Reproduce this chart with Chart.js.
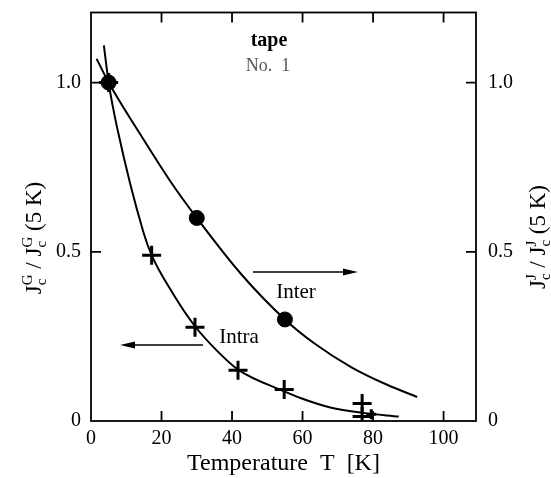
<!DOCTYPE html>
<html>
<head>
<meta charset="utf-8">
<script src="https://cdn.jsdelivr.net/npm/chart.js@4.4.0/dist/chart.umd.min.js"></script>
<style>
  html, body { margin: 0; padding: 0; background: #fff; }
  #wrap { width: 551px; height: 478px; }
</style>
</head>
<body>
<div id="wrap"><canvas id="chart" width="551" height="478"></canvas></div>
<script>
const interT = [5, 30, 55];
const interJ = [1.0, 0.60, 0.30];
const intraT = [5, 17.2, 29.5, 41.7, 54.8, 76.9, 76.9, 79.5];
const intraJ = [1.0, 0.49, 0.277, 0.15, 0.093, 0.052, 0.013, 0.02];

// hand-drawn guide curves
const interCurveT = [1.6, 5, 13.8, 22.4, 30, 42.5, 55, 63, 74, 84, 92.5];
const interCurveJ = [1.07, 1.0, 0.85, 0.71, 0.60, 0.435, 0.30, 0.232, 0.158, 0.107, 0.071];
const intraCurveT = [3.65, 5, 7.7, 14.8, 17.2, 23.4, 29.5, 35.7, 41.7, 55, 59.4, 67.9, 77, 87.3];
const intraCurveJ = [1.11, 1.0, 0.853, 0.56, 0.49, 0.374, 0.28, 0.208, 0.152, 0.087, 0.068, 0.040, 0.024, 0.013];

const xTicks = [0, 20, 40, 60, 80, 100];
const yTicks = [0, 0.5, 1.0];
const yTickLabels = ['0', '0.5', '1.0'];

const SERIF = '"Liberation Serif", "Times New Roman", serif';

const toXY = (xs, ys) => xs.map((x, i) => ({ x, y: ys[i] }));

// frame, inward ticks, y titles and annotations
const decor = {
  id: 'decor',
  afterDraw(chart) {
    const { ctx, chartArea: a, scales } = chart;
    ctx.save();
    ctx.strokeStyle = '#000';
    ctx.lineWidth = 1.8;
    ctx.strokeRect(a.left, a.top, a.right - a.left, a.bottom - a.top);

    ctx.beginPath();
    xTicks.slice(1).forEach(v => {
      const px = scales.x.getPixelForValue(v);
      ctx.moveTo(px, a.bottom); ctx.lineTo(px, a.bottom - 10);
      ctx.moveTo(px, a.top); ctx.lineTo(px, a.top + 10);
    });
    yTicks.slice(1).forEach(v => {
      const py = scales.y.getPixelForValue(v);
      ctx.moveTo(a.left, py); ctx.lineTo(a.left + 10, py);
      ctx.moveTo(a.right, py); ctx.lineTo(a.right - 10, py);
    });
    ctx.stroke();

    // axis titles with sub/superscripts
    drawRatio(ctx, 33, 238, 'G');
    drawRatio(ctx, 537, 237, 'J');

    ctx.fillStyle = '#000';
    ctx.textAlign = 'center';
    ctx.textBaseline = 'middle';
    ctx.font = 'bold 20px ' + SERIF;
    ctx.fillText('tape', 269, 41);
    ctx.fillStyle = '#555';
    ctx.font = '18px ' + SERIF;
    ctx.fillText('No.  1', 268, 66);
    ctx.fillStyle = '#000';
    ctx.font = '21px ' + SERIF;
    ctx.fillText('Inter', 296, 292);
    ctx.fillText('Intra', 239, 337);

    arrow(ctx, 253, 358, 272);
    arrow(ctx, 203, 120, 345);
    ctx.restore();
  }
};

function arrow(ctx, x0, x1, y) {
  const dir = Math.sign(x1 - x0);
  ctx.lineWidth = 1.5;
  ctx.beginPath();
  ctx.moveTo(x0, y); ctx.lineTo(x1 - dir * 10, y);
  ctx.stroke();
  ctx.beginPath();
  ctx.moveTo(x1, y);
  ctx.lineTo(x1 - dir * 15, y - 3.5);
  ctx.lineTo(x1 - dir * 15, y + 3.5);
  ctx.closePath();
  ctx.fill();
}

function drawRatio(ctx, cx, cy, sup) {
  const big = '23px ' + SERIF, small = '15px ' + SERIF;
  const parts = [
    ['J', big, 0], ['c', small, 5], [sup, small, -9, true],
    [' / ', big, 0],
    ['J', big, 0], ['c', small, 5], [sup, small, -9, true],
    [' (5 K)', big, 0]
  ];
  ctx.save();
  ctx.translate(cx, cy);
  ctx.rotate(-Math.PI / 2);
  ctx.fillStyle = '#000';
  ctx.textBaseline = 'alphabetic';
  ctx.textAlign = 'left';
  const widths = parts.map(p => { ctx.font = p[1]; return ctx.measureText(p[0]).width; });
  let total = 0;
  parts.forEach((p, i) => {
    if (p[3]) total += Math.max(0, widths[i] - widths[i - 1]);
    else total += widths[i];
  });
  let x = -total / 2, prevStart = x, prevW = 0;
  parts.forEach((p, i) => {
    ctx.font = p[1];
    if (p[3]) {
      ctx.fillText(p[0], prevStart, 8 + p[2]);
      x = prevStart + Math.max(prevW, widths[i]);
    } else {
      ctx.fillText(p[0], x, 8 + p[2]);
      prevStart = x; prevW = widths[i];
      x += widths[i];
    }
  });
  ctx.restore();
}

const yAxis = (position, width, pad) => ({
  type: 'linear',
  position,
  min: 0,
  max: 1.207,
  afterBuildTicks: s => { s.ticks = yTicks.map(v => ({ value: v })); },
  afterFit: s => { s.width = width; s.paddingTop = 0; s.paddingBottom = 0; },
  ticks: {
    color: '#000',
    font: { family: SERIF, size: 20 },
    padding: pad,
    callback: v => yTickLabels[yTicks.indexOf(v)]
  },
  grid: { display: false, drawTicks: false },
  border: { display: false }
});

new Chart(document.getElementById('chart'), {
  type: 'line',
  data: {
    datasets: [
      {
        label: 'Inter curve',
        data: toXY(interCurveT, interCurveJ),
        borderColor: '#000', borderWidth: 2,
        pointRadius: 0, cubicInterpolationMode: 'monotone', fill: false
      },
      {
        label: 'Intra curve',
        data: toXY(intraCurveT, intraCurveJ),
        borderColor: '#000', borderWidth: 2,
        pointRadius: 0, cubicInterpolationMode: 'monotone', fill: false
      },
      {
        label: 'Inter',
        data: toXY(interT, interJ),
        showLine: false,
        pointStyle: 'circle', pointRadius: 7.5,
        pointBackgroundColor: '#000', pointBorderColor: '#000'
      },
      {
        label: 'Intra',
        data: toXY(intraT, intraJ),
        showLine: false,
        pointStyle: 'cross',
        pointRadius: [9.5, 9.5, 9.5, 9.5, 9.5, 9.5, 9.5, 5],
        pointBorderWidth: 3,
        pointBorderColor: '#000'
      }
    ]
  },
  options: {
    responsive: false,
    animation: false,
    layout: { padding: { top: 9, left: 0, right: 0, bottom: 0 } },
    plugins: { legend: { display: false }, tooltip: { enabled: false } },
    scales: {
      x: {
        type: 'linear',
        min: 0,
        max: 109.2,
        afterBuildTicks: s => { s.ticks = xTicks.map(v => ({ value: v })); },
        afterFit: s => { s.height = 57; },
        ticks: { color: '#000', font: { family: SERIF, size: 20 }, padding: 6 },
        grid: { display: false, drawTicks: false },
        border: { display: false },
        title: {
          display: true,
          text: 'Temperature  T  [K]',
          color: '#000',
          font: { family: SERIF, size: 24 },
          padding: { top: 0, bottom: 0 }
        }
      },
      y: yAxis('left', 91, 10),
      y2: yAxis('right', 75, 12)
    }
  },
  plugins: [decor]
});
</script>
</body>
</html>
